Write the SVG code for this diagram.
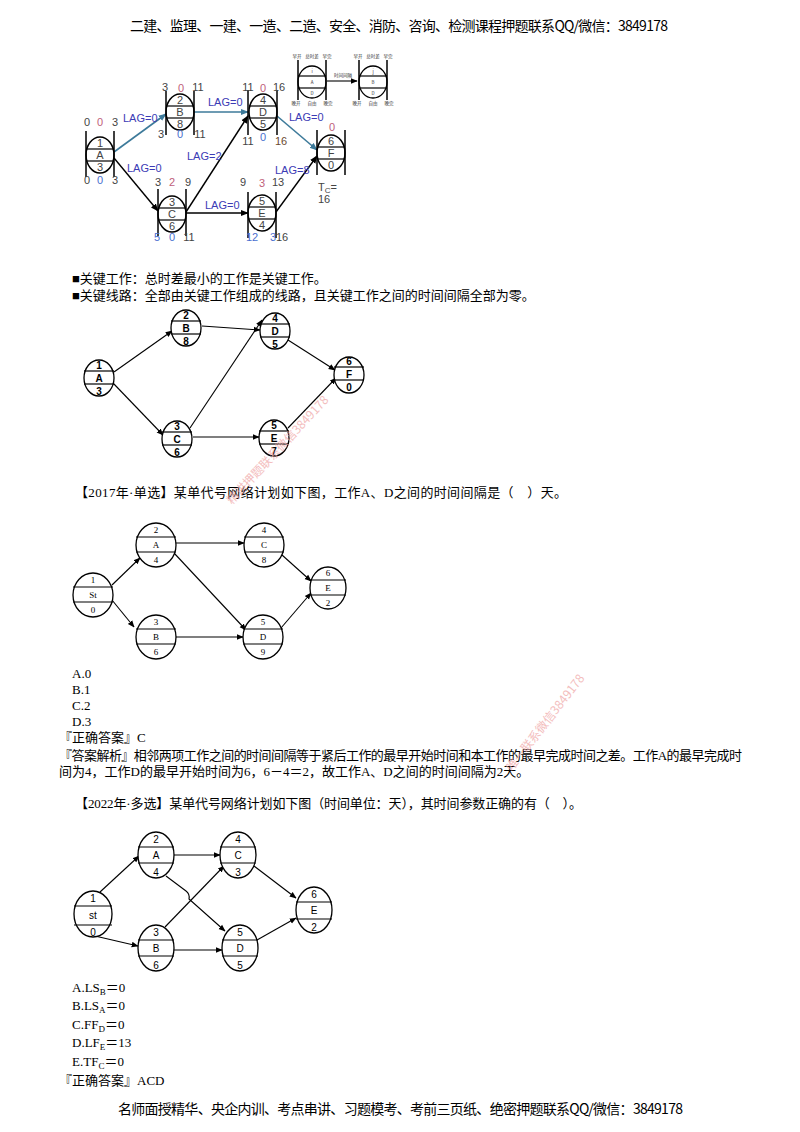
<svg xmlns="http://www.w3.org/2000/svg" width="800" height="1132" viewBox="0 0 800 1132">
<style>
.bg{fill:#fff}
.hd{font-family:"Noto Sans CJK SC","Liberation Sans",sans-serif;font-size:14px;fill:#000}
.tx{font-family:"Liberation Serif","Noto Sans CJK SC",serif;font-size:13px;fill:#000}
.tl{font-family:"Liberation Sans",Arial,sans-serif;font-size:11px}
.g{fill:#444}.p{fill:#c0607a}.b{fill:#4a6fd0}.br{fill:#6a4a30}
.lag{font-family:"Liberation Sans",Arial,sans-serif;font-size:11px;fill:#3b3bb5}
.nd{fill:#fff;stroke:#000;stroke-width:1.5}
.ln{stroke:#000;stroke-width:1.2;fill:none}
.bar{stroke:#000;stroke-width:1.5}
.c1{stroke:#000;stroke-width:1.4;fill:none}
.c1t{stroke:#3d7a9a;stroke-width:1.6;fill:none}
.n2{fill:#fff;stroke:#000;stroke-width:1.3}
.t2{font-family:"Liberation Sans",Arial,sans-serif;font-size:10px;font-weight:bold;fill:#000;text-anchor:middle}
.t3{font-family:"Liberation Serif",serif;font-size:9px;fill:#000;text-anchor:middle}
.t4{font-family:"Liberation Sans",Arial,sans-serif;font-size:10px;fill:#000;text-anchor:middle}
.c2{stroke:#000;stroke-width:1.1;fill:none}
.mid{text-anchor:middle}
.lg{font-family:"Noto Sans CJK SC",sans-serif;font-size:4.5px;fill:#333;text-anchor:middle}
.wm{font-family:"Noto Sans CJK SC",sans-serif;font-size:12px;fill:#f0a8a8;opacity:0.75}
</style>
<defs>
<marker id="ab" viewBox="0 0 10 10" refX="9" refY="5" markerWidth="8" markerHeight="8" markerUnits="userSpaceOnUse" orient="auto"><path d="M0,1 L10,5 L0,9 z" fill="#000"/></marker>
<marker id="at" viewBox="0 0 10 10" refX="9" refY="5" markerWidth="8" markerHeight="8" markerUnits="userSpaceOnUse" orient="auto"><path d="M0,1 L10,5 L0,9 z" fill="#3d7a9a"/></marker>
<marker id="as" viewBox="0 0 10 10" refX="9" refY="5" markerWidth="7" markerHeight="7" markerUnits="userSpaceOnUse" orient="auto"><path d="M0,1 L10,5 L0,9 z" fill="#000"/></marker>
</defs>
<rect class="bg" width="800" height="1132"/>

<!-- header -->
<text class="hd" x="130" y="31" textLength="538">二建、监理、一建、一造、二造、安全、消防、咨询、检测课程押题联系QQ/微信：3849178</text>

<!-- ===== Diagram 1 ===== -->
<g id="d1-connectors">
<path class="c1t" d="M114,152 L166,114" marker-end="url(#at)"/>
<path class="c1" d="M114,158 L158,211" marker-end="url(#ab)"/>
<path class="c1t" d="M194,112 L248,112" marker-end="url(#at)"/>
<path class="c1" d="M186,212 L248,116" marker-end="url(#ab)"/>
<path class="c1" d="M186,213 L248,213" marker-end="url(#ab)"/>
<path class="c1t" d="M277,116 L317,150" marker-end="url(#at)"/>
<path class="c1" d="M276,212 L317,156" marker-end="url(#ab)"/>
<text class="lag" x="123" y="122">LAG=0</text>
<text class="lag" x="127" y="172">LAG=0</text>
<text class="lag" x="208" y="106">LAG=0</text>
<text class="lag" x="187" y="160">LAG=2</text>
<text class="lag" x="205" y="209">LAG=0</text>
<text class="lag" x="289" y="121">LAG=0</text>
<text class="lag" x="275" y="174">LAG=8</text>
</g>

<g id="d1-A">
<ellipse class="nd" cx="100" cy="155" rx="14" ry="18"/>
<line class="ln" x1="86" y1="149" x2="114" y2="149"/><line class="ln" x1="86" y1="161" x2="114" y2="161"/>
<line class="bar" x1="86" y1="131" x2="86" y2="177"/><line class="bar" x1="114" y1="131" x2="114" y2="177"/>
<text class="tl g mid" x="100" y="147">1</text><text class="tl g mid" x="100" y="159">A</text><text class="tl g mid" x="100" y="171">3</text>
<text class="tl g mid" x="87" y="126">0</text><text class="tl p mid" x="100" y="126">0</text><text class="tl g mid" x="115" y="126">3</text>
<text class="tl g mid" x="87" y="184">0</text><text class="tl b mid" x="100" y="184">0</text><text class="tl g mid" x="115" y="184">3</text>
</g>
<g id="d1-B">
<ellipse class="nd" cx="180" cy="112" rx="14" ry="18"/>
<line class="ln" x1="166" y1="106" x2="194" y2="106"/><line class="ln" x1="166" y1="118" x2="194" y2="118"/>
<line class="bar" x1="166" y1="91" x2="166" y2="135"/><line class="bar" x1="194" y1="91" x2="194" y2="135"/>
<text class="tl g mid" x="180" y="104">2</text><text class="tl g mid" x="180" y="116">B</text><text class="tl g mid" x="180" y="128">8</text>
<text class="tl g mid" x="165" y="91">3</text><text class="tl p mid" x="181" y="92">0</text><text class="tl g mid" x="198" y="91">11</text>
<text class="tl g mid" x="161" y="138">3</text><text class="tl b mid" x="180" y="138">0</text><text class="tl g mid" x="200" y="138">11</text>
</g>
<g id="d1-C">
<ellipse class="nd" cx="172" cy="214" rx="14" ry="18"/>
<line class="ln" x1="158" y1="208" x2="186" y2="208"/><line class="ln" x1="158" y1="220" x2="186" y2="220"/>
<line class="bar" x1="158" y1="189" x2="158" y2="236"/><line class="bar" x1="186" y1="189" x2="186" y2="236"/>
<text class="tl g mid" x="172" y="206">3</text><text class="tl g mid" x="172" y="218">C</text><text class="tl g mid" x="172" y="230">6</text>
<text class="tl g mid" x="158" y="186">3</text><text class="tl p mid" x="172" y="186">2</text><text class="tl g mid" x="188" y="186">9</text>
<text class="tl b mid" x="157" y="241">5</text><text class="tl b mid" x="172" y="241">0</text><text class="tl g mid" x="189" y="241">11</text>
</g>
<g id="d1-D">
<ellipse class="nd" cx="263" cy="112" rx="14" ry="18"/>
<line class="ln" x1="249" y1="106" x2="277" y2="106"/><line class="ln" x1="249" y1="118" x2="277" y2="118"/>
<line class="bar" x1="248" y1="90" x2="248" y2="135"/><line class="bar" x1="277" y1="90" x2="277" y2="135"/>
<text class="tl g mid" x="263" y="104">4</text><text class="tl g mid" x="263" y="116">D</text><text class="tl g mid" x="263" y="128">5</text>
<text class="tl g mid" x="248" y="91">11</text><text class="tl p mid" x="263" y="92">0</text><text class="tl g mid" x="279" y="91">16</text>
<text class="tl g mid" x="248" y="145">11</text><text class="tl b mid" x="263" y="141">0</text><text class="tl br mid" x="281" y="145">16</text>
</g>
<g id="d1-E">
<ellipse class="nd" cx="262" cy="213" rx="14" ry="18"/>
<line class="ln" x1="248" y1="207" x2="276" y2="207"/><line class="ln" x1="248" y1="219" x2="276" y2="219"/>
<line class="bar" x1="248" y1="192" x2="248" y2="238"/><line class="bar" x1="276" y1="192" x2="276" y2="238"/>
<text class="tl g mid" x="262" y="205">5</text><text class="tl g mid" x="262" y="217">E</text><text class="tl g mid" x="262" y="229">4</text>
<text class="tl g mid" x="243" y="186">9</text><text class="tl p mid" x="262" y="187">3</text><text class="tl g mid" x="278" y="186">13</text>
<text class="tl b mid" x="252" y="241">12</text><text class="tl b mid" x="273" y="241">3</text><text class="tl g mid" x="282" y="241">16</text>
</g>
<g id="d1-F">
<ellipse class="nd" cx="331" cy="153" rx="14" ry="18"/>
<line class="ln" x1="317" y1="147" x2="345" y2="147"/><line class="ln" x1="317" y1="159" x2="345" y2="159"/>
<line class="bar" x1="317" y1="130" x2="317" y2="175"/><line class="bar" x1="345" y1="130" x2="345" y2="175"/>
<text class="tl g mid" x="331" y="145">6</text><text class="tl g mid" x="331" y="157">F</text><text class="tl g mid" x="331" y="169">0</text>
<text class="tl p mid" x="332" y="131">0</text>
<text class="tl g" x="318" y="191">T<tspan font-size="8" dy="2">C</tspan><tspan dy="-2">=</tspan></text>
<text class="tl g" x="318" y="203">16</text>
</g>

<!-- legend -->
<g id="legend">
<line class="c2" x1="327" y1="81" x2="357" y2="81" marker-end="url(#as)" stroke-width="0.8"/>
<text class="lg" x="343" y="77">时间间隔</text>
<ellipse class="n2" cx="312" cy="82" rx="14" ry="16" stroke-width="1"/>
<line class="ln" x1="298" y1="76" x2="326" y2="76" stroke-width="0.8"/><line class="ln" x1="298" y1="88" x2="326" y2="88" stroke-width="0.8"/>
<line class="bar" x1="298" y1="60" x2="298" y2="100" stroke-width="1"/><line class="bar" x1="326" y1="60" x2="326" y2="100" stroke-width="1"/>
<text class="lg" x="312" y="73">i</text><text class="lg" x="312" y="84">A</text><text class="lg" x="312" y="95">D</text>
<text class="lg" x="297" y="58">早开</text><text class="lg" x="312" y="58">总时差</text><text class="lg" x="327" y="58">早完</text>
<text class="lg" x="296" y="105">晚开</text><text class="lg" x="312" y="105">自由</text><text class="lg" x="328" y="105">晚完</text>
<ellipse class="n2" cx="373" cy="82" rx="14" ry="16" stroke-width="1"/>
<line class="ln" x1="359" y1="76" x2="387" y2="76" stroke-width="0.8"/><line class="ln" x1="359" y1="88" x2="387" y2="88" stroke-width="0.8"/>
<line class="bar" x1="359" y1="60" x2="359" y2="100" stroke-width="1"/><line class="bar" x1="387" y1="60" x2="387" y2="100" stroke-width="1"/>
<text class="lg" x="373" y="73">j</text><text class="lg" x="373" y="84">B</text><text class="lg" x="373" y="95">D</text>
<text class="lg" x="358" y="58">早开</text><text class="lg" x="373" y="58">总时差</text><text class="lg" x="388" y="58">早完</text>
<text class="lg" x="357" y="105">晚开</text><text class="lg" x="373" y="105">自由</text><text class="lg" x="389" y="105">晚完</text>
</g>

<text class="tx" x="72" y="283">■关键工作：总时差最小的工作是关键工作。</text>
<text class="tx" x="72" y="300">■关键线路：全部由关键工作组成的线路，且关键工作之间的时间间隔全部为零。</text>

<!-- ===== Diagram 2 ===== -->
<g id="d2-connectors">
<path class="c2" d="M114,372 L172,331" marker-end="url(#as)"/>
<path class="c2" d="M113,383 L163,435" marker-end="url(#as)"/>
<path class="c2" d="M202,326 L260,330" marker-end="url(#as)"/>
<path class="c2" d="M190,428 L262,320" marker-end="url(#as)"/>
<path class="c2" d="M193,437 L259,437" stroke-width="2" marker-end="url(#as)"/>
<path class="c2" d="M288,340 L335,370" marker-end="url(#as)"/>
<path class="c2" d="M288,428 L336,378" marker-end="url(#as)"/>
</g>
<g id="d2-1"><ellipse class="n2" cx="99" cy="378" rx="15" ry="18"/><line class="ln" x1="84" y1="371" x2="114" y2="371"/><line class="ln" x1="84" y1="384" x2="114" y2="384"/>
<text class="t2" x="99" y="369">1</text><text class="t2" x="99" y="382">A</text><text class="t2" x="99" y="395">3</text></g>
<g id="d2-B"><ellipse class="n2" cx="186" cy="328" rx="15" ry="18"/><line class="ln" x1="171" y1="321" x2="201" y2="321"/><line class="ln" x1="171" y1="334" x2="201" y2="334"/>
<text class="t2" x="186" y="319">2</text><text class="t2" x="186" y="332">B</text><text class="t2" x="186" y="345">8</text></g>
<g id="d2-D"><ellipse class="n2" cx="275" cy="331" rx="15" ry="18"/><line class="ln" x1="260" y1="324" x2="290" y2="324"/><line class="ln" x1="260" y1="337" x2="290" y2="337"/>
<text class="t2" x="275" y="322">4</text><text class="t2" x="275" y="335">D</text><text class="t2" x="275" y="348">5</text></g>
<g id="d2-F"><ellipse class="n2" cx="349" cy="375" rx="15" ry="18"/><line class="ln" x1="334" y1="367" x2="364" y2="367"/><line class="ln" x1="334" y1="380" x2="364" y2="380"/>
<text class="t2" x="349" y="365">6</text><text class="t2" x="349" y="378">F</text><text class="t2" x="349" y="391">0</text></g>
<g id="d2-C"><ellipse class="n2" cx="177" cy="439" rx="15" ry="18"/><line class="ln" x1="162" y1="432" x2="192" y2="432"/><line class="ln" x1="162" y1="445" x2="192" y2="445"/>
<text class="t2" x="177" y="430">3</text><text class="t2" x="177" y="443">C</text><text class="t2" x="177" y="456">6</text></g>
<g id="d2-E"><ellipse class="n2" cx="274" cy="438" rx="15" ry="18"/><line class="ln" x1="259" y1="431" x2="289" y2="431"/><line class="ln" x1="259" y1="444" x2="289" y2="444"/>
<text class="t2" x="274" y="429">5</text><text class="t2" x="274" y="442">E</text><text class="t2" x="274" y="455">7</text></g>

<!-- ===== Diagram 3 ===== -->
<text class="tx" x="75" y="497" textLength="492">【2017年·单选】某单代号网络计划如下图，工作A、D之间的时间间隔是（　）天。</text>
<g id="d3-connectors">
<path class="c2" d="M112,585 L140,558" marker-end="url(#as)"/>
<path class="c2" d="M112,600 L134,627" marker-end="url(#as)"/>
<path class="c2" d="M176,543 L244,543" marker-end="url(#as)"/>
<path class="c2" d="M174,553 L246,630" marker-end="url(#as)"/>
<path class="c2" d="M176,637 L243,637" stroke-width="1.5" marker-end="url(#as)"/>
<path class="c2" d="M282,555 L311,581" marker-end="url(#as)"/>
<path class="c2" d="M281,628 L311,593" marker-end="url(#as)"/>
</g>
<g id="d3-St"><ellipse class="n2" cx="93" cy="595" rx="20" ry="22"/><line class="ln" x1="73" y1="587" x2="113" y2="587" stroke-width="1.8"/><line class="ln" x1="73" y1="602" x2="113" y2="602"/>
<text class="t3" x="93" y="583">1</text><text class="t3" x="93" y="598">St</text><text class="t3" x="93" y="613">0</text></g>
<g id="d3-A"><ellipse class="n2" cx="156" cy="545" rx="20" ry="22"/><line class="ln" x1="136" y1="537" x2="176" y2="537" stroke-width="1.8"/><line class="ln" x1="136" y1="552" x2="176" y2="552"/>
<text class="t3" x="156" y="533">2</text><text class="t3" x="156" y="548">A</text><text class="t3" x="156" y="563">4</text></g>
<g id="d3-C"><ellipse class="n2" cx="264" cy="545" rx="20" ry="22"/><line class="ln" x1="244" y1="537" x2="284" y2="537" stroke-width="1.8"/><line class="ln" x1="244" y1="552" x2="284" y2="552"/>
<text class="t3" x="264" y="533">4</text><text class="t3" x="264" y="548">C</text><text class="t3" x="264" y="563">8</text></g>
<g id="d3-E"><ellipse class="n2" cx="328" cy="588" rx="18" ry="21"/><line class="ln" x1="310" y1="580" x2="346" y2="580"/><line class="ln" x1="310" y1="595" x2="346" y2="595"/>
<text class="t3" x="328" y="576">6</text><text class="t3" x="328" y="591">E</text><text class="t3" x="328" y="606">2</text></g>
<g id="d3-B"><ellipse class="n2" cx="156" cy="637" rx="20" ry="22"/><line class="ln" x1="136" y1="629" x2="176" y2="629" stroke-width="1.8"/><line class="ln" x1="136" y1="644" x2="176" y2="644"/>
<text class="t3" x="156" y="625">3</text><text class="t3" x="156" y="640">B</text><text class="t3" x="156" y="655">6</text></g>
<g id="d3-D"><ellipse class="n2" cx="263" cy="637" rx="20" ry="22"/><line class="ln" x1="243" y1="629" x2="283" y2="629" stroke-width="1.8"/><line class="ln" x1="243" y1="644" x2="283" y2="644"/>
<text class="t3" x="263" y="625">5</text><text class="t3" x="263" y="640">D</text><text class="t3" x="263" y="655">9</text></g>

<text class="tx" x="72" y="678">A.0</text>
<text class="tx" x="72" y="694">B.1</text>
<text class="tx" x="72" y="710">C.2</text>
<text class="tx" x="72" y="726">D.3</text>
<text class="tx" x="59" y="742">『正确答案』C</text>
<text class="tx" x="59" y="760" textLength="683">『答案解析』相邻两项工作之间的时间间隔等于紧后工作的最早开始时间和本工作的最早完成时间之差。工作A的最早完成时</text>
<text class="tx" x="59" y="776">间为4，工作D的最早开始时间为6，6－4＝2，故工作A、D之间的时间间隔为2天。</text>

<!-- ===== Diagram 4 ===== -->
<text class="tx" x="75" y="808" textLength="507">【2022年·多选】某单代号网络计划如下图（时间单位：天），其时间参数正确的有（　）。</text>
<g id="d4-connectors">
<path class="c2" d="M100,892 L139,856" marker-end="url(#as)"/>
<path class="c2" d="M95,936 L138,946" marker-end="url(#as)"/>
<path class="c2" d="M174,855 L220,855" stroke-width="1.5" marker-end="url(#as)"/>
<path class="c2" d="M166,876 L186,891 q4,3 3,8 L225,931" marker-end="url(#as)"/>
<path class="c2" d="M165,927 L224,866" marker-end="url(#as)"/>
<path class="c2" d="M174,950 L222,950" marker-end="url(#as)"/>
<path class="c2" d="M254,866 L296,898" marker-end="url(#as)"/>
<path class="c2" d="M257,940 L296,918" marker-end="url(#as)"/>
</g>
<g id="d4-st"><ellipse class="n2" cx="93" cy="914" rx="19" ry="23"/><line class="ln" x1="74" y1="906" x2="112" y2="906"/><line class="ln" x1="74" y1="925" x2="112" y2="925"/>
<text class="t4" x="93" y="902">1</text><text class="t4" x="93" y="919">st</text><text class="t4" x="93" y="936">0</text></g>
<g id="d4-A"><ellipse class="n2" cx="156" cy="855" rx="18" ry="23"/><line class="ln" x1="138" y1="847" x2="174" y2="847"/><line class="ln" x1="138" y1="863" x2="174" y2="863"/>
<text class="t4" x="156" y="843">2</text><text class="t4" x="156" y="859">A</text><text class="t4" x="156" y="876">4</text></g>
<g id="d4-C"><ellipse class="n2" cx="238" cy="855" rx="18" ry="23"/><line class="ln" x1="220" y1="847" x2="256" y2="847"/><line class="ln" x1="220" y1="863" x2="256" y2="863"/>
<text class="t4" x="238" y="843">4</text><text class="t4" x="238" y="859">C</text><text class="t4" x="238" y="876">3</text></g>
<g id="d4-E"><ellipse class="n2" cx="314" cy="910" rx="18" ry="23"/><line class="ln" x1="296" y1="902" x2="332" y2="902"/><line class="ln" x1="296" y1="919" x2="332" y2="919"/>
<text class="t4" x="314" y="898">6</text><text class="t4" x="314" y="914">E</text><text class="t4" x="314" y="931">2</text></g>
<g id="d4-B"><ellipse class="n2" cx="156" cy="948" rx="18" ry="23"/><line class="ln" x1="138" y1="940" x2="174" y2="940"/><line class="ln" x1="138" y1="956" x2="174" y2="956"/>
<text class="t4" x="156" y="936">3</text><text class="t4" x="156" y="952">B</text><text class="t4" x="156" y="969">6</text></g>
<g id="d4-D"><ellipse class="n2" cx="240" cy="948" rx="18" ry="23"/><line class="ln" x1="222" y1="940" x2="258" y2="940"/><line class="ln" x1="222" y1="956" x2="258" y2="956"/>
<text class="t4" x="240" y="936">5</text><text class="t4" x="240" y="952">D</text><text class="t4" x="240" y="969">5</text></g>

<text class="tx" x="72" y="992">A.LS<tspan font-size="9" dy="3">B</tspan><tspan dy="-3">＝0</tspan></text>
<text class="tx" x="72" y="1010">B.LS<tspan font-size="9" dy="3">A</tspan><tspan dy="-3">＝0</tspan></text>
<text class="tx" x="72" y="1029">C.FF<tspan font-size="9" dy="3">D</tspan><tspan dy="-3">＝0</tspan></text>
<text class="tx" x="72" y="1047">D.LF<tspan font-size="9" dy="3">E</tspan><tspan dy="-3">＝13</tspan></text>
<text class="tx" x="72" y="1066">E.TF<tspan font-size="9" dy="3">C</tspan><tspan dy="-3">＝0</tspan></text>
<text class="tx" x="59" y="1085">『正确答案』ACD</text>

<!-- watermarks -->
<text class="wm" transform="translate(232,505) rotate(-47)">精讲押题联系微信3849178</text>
<text class="wm" transform="translate(512,772) rotate(-52)">唯一联系微信3849178</text>

<!-- footer -->
<text class="hd" x="118" y="1114" textLength="565">名师面授精华、央企内训、考点串讲、习题模考、考前三页纸、绝密押题联系QQ/微信：3849178</text>
</svg>
